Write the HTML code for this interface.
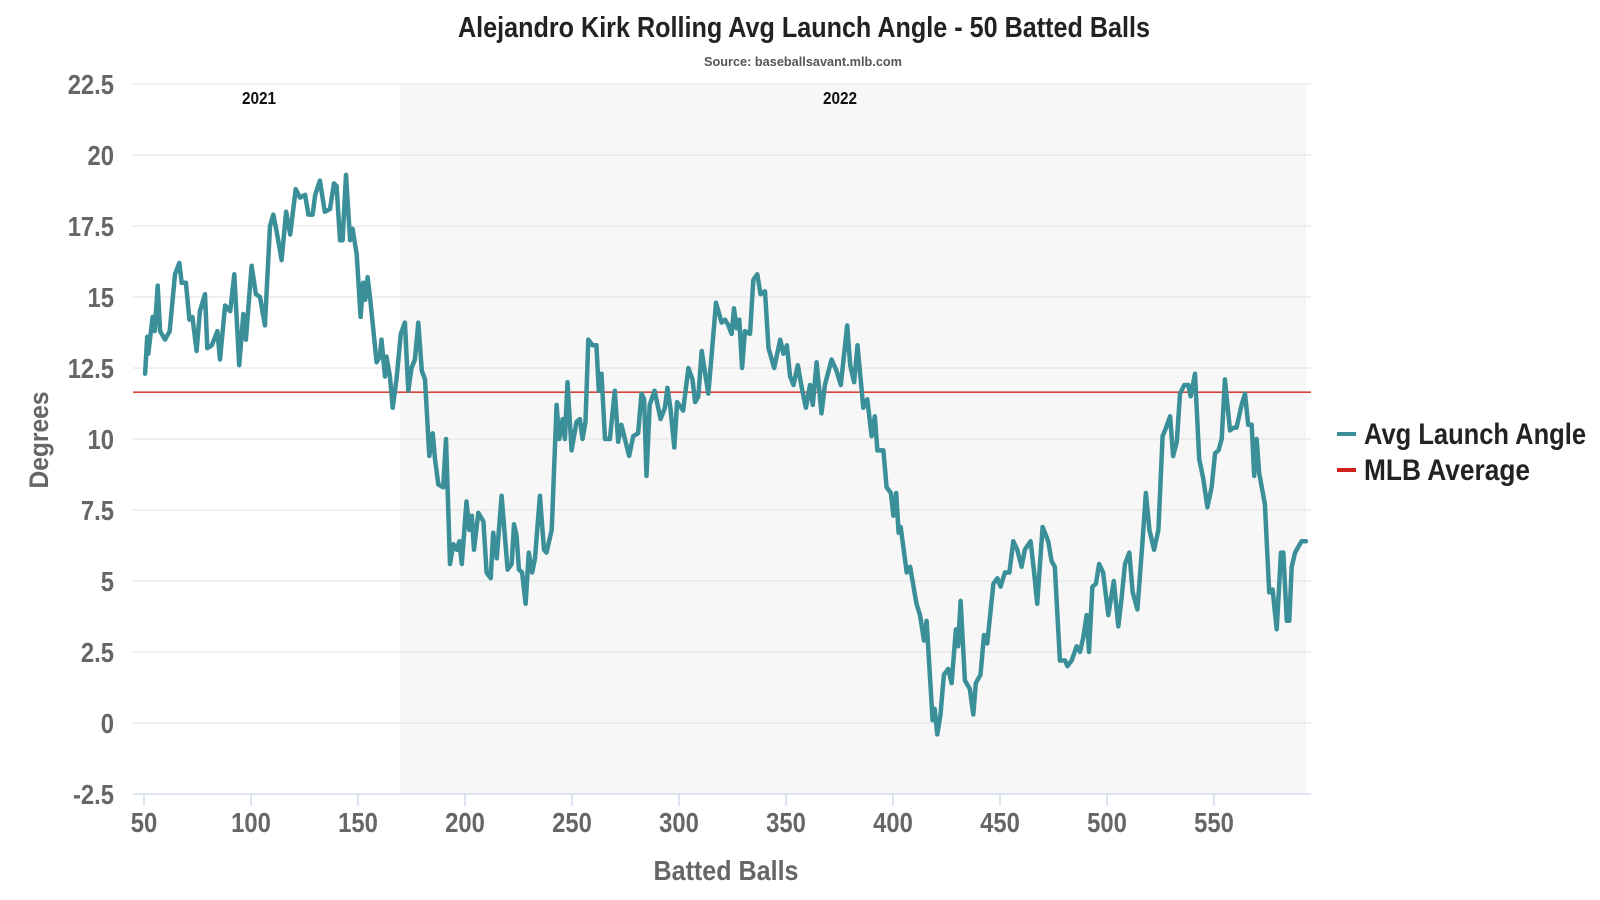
<!DOCTYPE html>
<html><head><meta charset="utf-8"><style>
html,body{margin:0;padding:0;background:#fff;}
svg{display:block;font-family:"Liberation Sans Narrow","Liberation Sans",sans-serif;}
</style></head><body>
<svg id="chart" width="1600" height="900">
<text x="804" y="37" text-anchor="middle" font-size="29" font-weight="bold" fill="#222" textLength="692" lengthAdjust="spacingAndGlyphs">Alejandro Kirk Rolling Avg Launch Angle - 50 Batted Balls</text>
<text x="803" y="66" text-anchor="middle" font-size="13" font-weight="bold" fill="#555" textLength="198" lengthAdjust="spacingAndGlyphs">Source: baseballsavant.mlb.com</text>
<g id="bands"></g><g id="grid"></g><g id="ticks"></g><g id="series"></g>
<text transform="translate(48,440) rotate(-90)" text-anchor="middle" font-size="27" font-weight="bold" fill="#666" textLength="97" lengthAdjust="spacingAndGlyphs">Degrees</text>
<text x="726" y="880" text-anchor="middle" font-size="28" font-weight="bold" fill="#666" textLength="145" lengthAdjust="spacingAndGlyphs">Batted Balls</text>
<g>
<rect x="1337" y="432" width="19" height="4" fill="#3a8f98"/>
<text x="1364" y="444" font-size="30" font-weight="bold" fill="#222" textLength="222" lengthAdjust="spacingAndGlyphs">Avg Launch Angle</text>
<rect x="1337" y="468" width="19" height="4" fill="#d0201c"/>
<text x="1364" y="480" font-size="30" font-weight="bold" fill="#222" textLength="166" lengthAdjust="spacingAndGlyphs">MLB Average</text>
</g>
</svg>
<script>
const xVals=[50.5,51.5,52,54,55,56.4,57.5,59.8,62,64.5,66.5,67.6,69.6,71.2,72.6,74.6,76.1,78.5,79.6,81.7,84.3,85.5,87.9,90.3,92.2,94.5,96.4,97.6,100.3,102.3,104.2,106.5,108.9,110.4,112,114.3,116.4,118.3,120.9,122.9,125.3,126.8,128.8,130,132.2,134.5,136.9,138.8,140,141.6,142.8,144.4,146.3,147.5,149.4,151.2,152.4,153.4,154.5,155.6,156.8,158.7,160.2,161,162.6,163.3,164.9,166.2,168,170,171.9,173.5,175,176.6,178.2,179.8,181.3,183.3,184.9,186,187.5,189.8,191.1,193,194.6,196.1,197.4,198.5,200.7,202,203.2,204.2,206.2,208.6,210.1,212,213.2,214.8,217.1,219.9,221.8,222.9,224.1,225.2,226.7,228.3,229.8,231.4,232.7,235,236.9,238.1,240.5,242.8,244,245.6,246.7,247.9,249.8,252.1,253.7,254.9,256.3,257.6,259.6,261.4,262.5,263.8,265.4,267.7,270,271.6,273.1,276.7,278.6,280.9,282.5,283.7,284.8,286.3,288.6,291.4,293.4,294.6,296,297.8,299.1,301.9,304.4,306.3,307.5,309,310.6,311.8,313.7,315.2,317.3,319.9,321.5,323.1,324.6,325.7,326.9,328.2,329.5,330.8,333.2,334.7,336.6,338.1,340.2,341.8,344.5,347.3,348.8,350.4,351.9,353.5,355.5,357.4,359.3,361.2,362.5,364.3,366.6,368.2,371.3,373.6,375.6,378.6,380,381.8,383.4,386.1,388,390,391.5,392.7,395.5,397,399,400.2,401.5,402.6,403.6,406.4,408,411,412.6,414.5,415.7,418.5,419.5,420.7,422.2,423.8,425.8,427.4,429.4,430.4,431.6,433.6,435.9,437.5,438.7,440.9,442.5,444,446.9,448.8,450.3,452.3,454.4,456.2,458.1,460.1,461.6,464.3,465.8,467.4,469.9,472.5,474.1,475.6,478,480.4,481.5,483.5,485.8,487.4,488.9,490.5,491.6,493.2,494.8,496.3,498.2,500.6,503.2,505.3,506.8,508.4,510.4,512,514.2,516.2,518.2,519.8,522,524,526,527.6,529.5,530.9,532.6,534.1,536.1,538,539.1,541.1,543.1,545,546.9,548.9,550.5,552.1,553.6,555.1,557.5,559.3,560.5,562.9,564.5,566,567.6,568.8,569.9,571.1,573.8,575.8,577.4,579.3,581.3,582.4,584,585.2,586.3,587.9,589.4,591,593];
const launchAngle=[12.3,13.6,13.0,14.3,13.8,15.4,13.8,13.5,13.8,15.8,16.2,15.5,15.5,14.2,14.3,13.1,14.5,15.1,13.2,13.3,13.8,12.8,14.7,14.5,15.8,12.6,14.4,13.5,16.1,15.1,15.0,14.0,17.5,17.9,17.3,16.3,18.0,17.2,18.8,18.5,18.6,17.9,17.9,18.6,19.1,18.0,18.1,19.0,18.9,17.0,17.0,19.3,17.0,17.4,16.5,14.3,15.5,14.9,15.7,15.0,14.1,12.7,12.9,13.5,12.2,12.9,12.2,11.1,12.1,13.7,14.1,11.7,12.5,12.8,14.1,12.4,12.1,9.4,10.2,9.3,8.4,8.3,10.0,5.6,6.3,6.1,6.4,5.6,7.8,6.8,7.3,6.1,7.4,7.1,5.3,5.1,6.7,5.8,8.0,5.4,5.6,7.0,6.6,5.4,5.3,4.2,6.0,5.3,5.8,8.0,6.1,6.0,6.8,11.2,10.0,10.7,10.0,12.0,9.6,10.6,10.7,10.0,10.6,13.5,13.3,13.3,11.7,12.3,10.0,10.0,11.7,9.9,10.5,9.4,10.1,10.2,11.6,11.4,8.7,11.2,11.7,10.7,11.1,11.8,11.1,9.7,11.3,11.0,12.5,12.1,11.3,11.5,13.1,12.5,11.6,12.9,14.8,14.1,14.2,14.0,13.7,14.6,13.9,14.2,12.5,13.8,13.7,15.6,15.8,15.1,15.2,13.2,12.5,13.5,13.0,13.3,12.2,11.9,12.6,11.8,11.1,11.9,11.2,12.7,10.9,11.9,12.8,12.4,11.9,14.0,12.6,12.0,13.3,11.1,11.4,10.1,10.8,9.6,9.6,8.3,8.1,7.3,8.1,6.7,6.9,5.3,5.5,4.2,3.8,2.9,3.6,0.1,0.5,-0.4,0.3,1.7,1.9,1.4,3.3,2.7,4.3,1.5,1.2,0.3,1.4,1.7,3.1,2.8,4.9,5.1,4.8,5.3,5.3,6.4,6.1,5.5,6.1,6.4,5.4,4.2,6.9,6.4,5.7,5.5,2.2,2.2,2.0,2.2,2.7,2.5,3.0,3.8,2.5,4.8,4.9,5.6,5.3,3.8,5.0,3.4,4.4,5.6,6.0,4.6,4.0,6.0,8.1,6.8,6.1,6.8,10.1,10.4,10.8,9.4,9.9,11.6,11.9,11.9,11.5,12.3,9.3,8.6,7.6,8.3,9.5,9.6,10.0,12.1,10.3,10.4,10.4,11.2,11.6,10.5,10.5,8.7,10.0,8.8,7.7,4.6,4.7,3.3,6.0,6.0,3.6,3.6,5.5,6.0,6.2,6.4,6.4];
const mlbAverage=[11.65];
const yTicks=[-2.5,0,2.5,5,7.5,10,12.5,15,17.5,20,22.5];
const xTicks=[50,100,150,200,250,300,350,400,450,500,550];
const seasons=['2021','2022'];
const seasonStarts=[45,169.6];
const seasonEnds=[169.6,593];

const NS='http://www.w3.org/2000/svg';
const L=133,R=1311,T=84,B=794;
const xs=v=>144+(v-50)*2.14;
const ys=v=>723-v*28.4;
function mk(tag,attrs,parent,txt){const e=document.createElementNS(NS,tag);for(const k in attrs)e.setAttribute(k,attrs[k]);if(txt!==undefined)e.textContent=txt;document.getElementById(parent).appendChild(e);return e;}
function narrow(t,x,y,s){t.setAttribute('x',0);t.setAttribute('y',0);t.setAttribute('transform','translate('+x+','+y+') scale('+s+',1)');}

seasons.forEach((s,i)=>{
  const x0=Math.max(L,xs(seasonStarts[i])),x1=xs(seasonEnds[i]);
  if(i===1){const r=mk('rect',{x:x0,y:T,width:x1-x0,height:B-T,fill:'#f7f7f7'},'bands');
  
  }
  const t=mk('text',{'text-anchor':'middle','font-size':18,'font-weight':'bold',fill:'#111'},'bands',s);
  narrow(t,(i===0?259:840),104,0.85);
  
  
});
yTicks.forEach(v=>{
  const y=ys(v);
  const g=mk('line',{x1:L,x2:R,y1:y,y2:y,stroke:v===-2.5?'#ccd6eb':'#e6e6e6','stroke-width':1.3},'grid');
  
  
  const t=mk('text',{'text-anchor':'end','font-size':28,'font-weight':'bold',fill:'#666'},'ticks',String(v));
  narrow(t,114,y+10,0.85);
  
  
});
xTicks.forEach(v=>{
  const x=xs(v);
  const l=mk('line',{x1:x,x2:x,y1:B,y2:B+12,stroke:'#ccd6eb','stroke-width':1.3},'ticks');
  
  
  const t=mk('text',{'text-anchor':'middle','font-size':28,'font-weight':'bold',fill:'#666'},'ticks',String(v));
  narrow(t,x,832,0.85);
  
  
});
const avg=mk('line',{x1:L,x2:R,y1:ys(mlbAverage[0]),y2:ys(mlbAverage[0]),stroke:'#d9443a','stroke-width':1.6},'series');


const pts=xVals.map((x,i)=>xs(x).toFixed(1)+','+ys(launchAngle[i]).toFixed(1)).join(' ');
const pl=mk('polyline',{points:pts,fill:'none',stroke:'#3a8f98','stroke-width':4.5,'stroke-linejoin':'round','stroke-linecap':'round'},'series');


</script>
</body></html>
